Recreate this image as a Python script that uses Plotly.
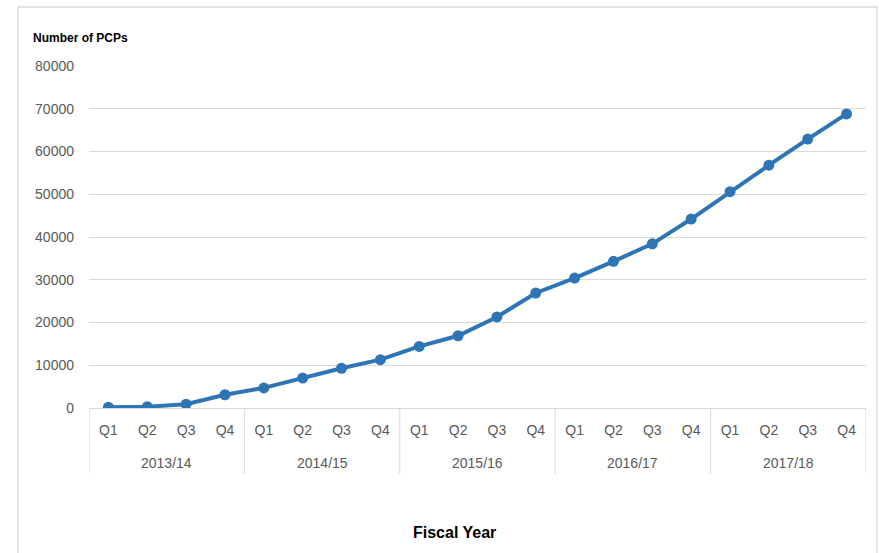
import plotly.graph_objects as go

# Fiscal years and quarters
fiscal_years = ["2013/14", "2014/15", "2015/16", "2016/17", "2017/18"]
quarters = ["Q1", "Q2", "Q3", "Q4"]

# Cumulative number of PCPs per quarter
pcp_counts = [
    200, 300, 900, 3100,
    4700, 7000, 9300, 11300,
    14400, 16900, 21300, 26900,
    30400, 34300, 38400, 44200,
    50600, 56800, 62900, 68800,
]

n_q = len(quarters)
positions = list(range(len(fiscal_years) * n_q))
quarter_labels = [q for _ in fiscal_years for q in quarters]

line_color = "#2e75b6"
grid_color = "#d9d9d9"
tick_color = "#595959"
font_family = "Liberation Sans, Arial, sans-serif"

fig = go.Figure(
    go.Scatter(
        x=positions,
        y=pcp_counts,
        mode="lines+markers",
        line=dict(color=line_color, width=4),
        marker=dict(color=line_color, size=11),
        text=[f"{q} {y}" for y in fiscal_years for q in quarters],
        hoverinfo="text+y",
    )
)

# group dividers below the axis and year labels under each block of quarters
shapes = [
    dict(
        type="rect", xref="paper", yref="paper",
        x0=-0.0914, x1=1.0142, y0=-0.46, y1=1.1725,
        line=dict(color="#d9d9d9", width=1.5),
        fillcolor="rgba(0,0,0,0)", layer="below",
    )
]
annotations = []
for g, year in enumerate(fiscal_years):
    start = g * n_q - 0.5
    shapes.append(dict(
        type="line", xref="x", yref="paper",
        x0=start, x1=start, y0=0, y1=-0.193,
        line=dict(color=grid_color, width=1),
    ))
    annotations.append(dict(
        text=year, xref="x", yref="paper",
        x=start + n_q / 2, y=-0.161, xanchor="center", yanchor="middle",
        showarrow=False, font=dict(size=14, color=tick_color, family=font_family),
    ))
end = len(positions) - 0.5
shapes.append(dict(
    type="line", xref="x", yref="paper",
    x0=end, x1=end, y0=0, y1=-0.193,
    line=dict(color=grid_color, width=1),
))

annotations += [
    dict(
        text="<b>Number of PCPs</b>", xref="paper", yref="paper",
        x=-0.0746, y=1.082, xanchor="left", yanchor="middle",
        showarrow=False, font=dict(size=12, color="#000000", family=font_family),
    ),
    dict(
        text="<b>Fiscal Year</b>", xref="paper", yref="paper",
        x=0.471, y=-0.365, xanchor="center", yanchor="middle",
        showarrow=False, font=dict(size=16, color="#000000", family=font_family),
    ),
]

fig.update_layout(
    width=879,
    height=553,
    margin=dict(l=89, r=13, t=66, b=145),
    paper_bgcolor="white",
    plot_bgcolor="white",
    showlegend=False,
    font=dict(family=font_family, color=tick_color, size=14),
    xaxis=dict(
        range=[-0.5, len(positions) - 0.5],
        tickmode="array",
        tickvals=positions,
        ticktext=quarter_labels,
        showline=True,
        linecolor=grid_color,
        linewidth=1,
        showgrid=False,
        zeroline=False,
        ticks="",
        tickfont=dict(size=14, color=tick_color),
        ticklabelstandoff=9,
    ),
    yaxis=dict(
        range=[0, 80000],
        dtick=10000,
        showgrid=True,
        gridcolor=grid_color,
        gridwidth=1,
        zeroline=False,
        showline=False,
        tickformat="d",
        tickfont=dict(size=14, color=tick_color),
        ticklabelstandoff=14,
    ),
    shapes=shapes,
    annotations=annotations,
)

fig.write_html("out.html")
